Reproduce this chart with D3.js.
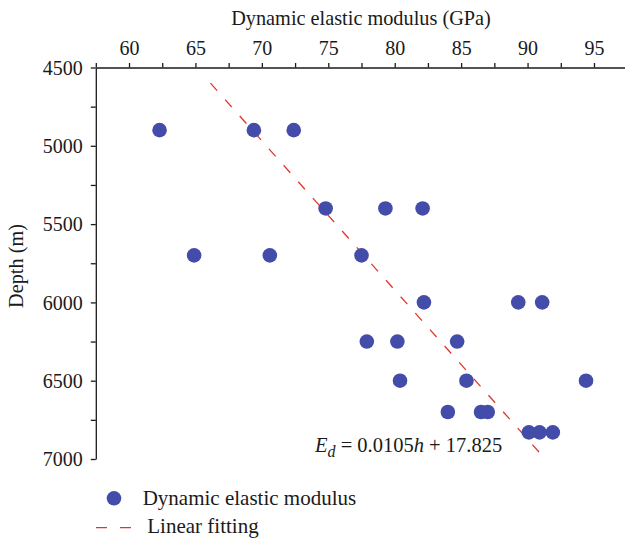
<!DOCTYPE html>
<html>
<head>
<meta charset="utf-8">
<script src="https://cdn.jsdelivr.net/npm/d3@7"></script>
<style>
  body { margin: 0; background: #fff; }
  svg text { font-family: "Liberation Serif", "Times New Roman", serif; fill: #1a1a1a; }
  .axis path, .axis line { stroke: #1a1a1a; stroke-width: 1.3; }
</style>
</head>
<body>
<div id="chart"></div>
<script>
// dynamic elastic modulus (GPa) against depth (m)
const modulus = [62.3, 69.4, 72.4, 74.8, 79.3, 82.1, 64.9, 70.6, 77.5, 82.2, 89.3, 91.1,
  77.9, 80.2, 84.7, 80.4, 85.4, 94.4, 84.0, 86.5, 87.0, 90.1, 90.9, 91.9];
const depth = [4900, 4900, 4900, 5400, 5400, 5400, 5700, 5700, 5700, 6000, 6000, 6000,
  6250, 6250, 6250, 6500, 6500, 6500, 6700, 6700, 6700, 6830, 6830, 6830];

// linear fitting end points
const fitDepth = [4600, 6980];
const fitModulus = [66.13, 91.12];

const xTicks = [60, 65, 70, 75, 80, 85, 90, 95];
const yTicks = [4500, 5000, 5500, 6000, 6500, 7000];

const width = 625, height = 541;
const pointColor = '#444ca9';
const fitColor = '#e2352c';

const svg = d3.select('#chart')
  .append('svg')
  .attr('width', width)
  .attr('height', height);

const x = d3.scaleLinear().domain([57.5, 97.5]).range([95.8, 627.2]);
const y = d3.scaleLinear().domain([4500, 7000]).range([67.5, 459]);

const xMinor = d3.range(57.5, 97.6, 2.5);
const yMinor = d3.range(4500, 7001, 250);

svg.append('g')
  .attr('class', 'axis')
  .attr('transform', 'translate(0,67.5)')
  .call(d3.axisTop(x)
    .tickValues(xMinor)
    .tickSize(4.5)
    .tickPadding(8)
    .tickSizeOuter(0)
    .tickFormat(d => xTicks.includes(d) ? d : ''))
  .call(g => g.selectAll('text').attr('font-size', 20));

svg.append('g')
  .attr('class', 'axis')
  .attr('transform', 'translate(95.8,0)')
  .call(d3.axisLeft(y)
    .tickValues(yMinor)
    .tickSize(5)
    .tickPadding(8)
    .tickSizeOuter(0)
    .tickFormat(d => yTicks.includes(d) ? d : ''))
  .call(g => g.selectAll('text').attr('font-size', 20).attr('dy', '0.34em'));

svg.append('text')
  .attr('x', 361)
  .attr('y', 25)
  .attr('text-anchor', 'middle')
  .attr('font-size', 20.3)
  .text('Dynamic elastic modulus (GPa)');

svg.append('text')
  .attr('transform', 'translate(23,266) rotate(-90)')
  .attr('text-anchor', 'middle')
  .attr('font-size', 20.3)
  .text('Depth (m)');

// fit line
svg.append('path')
  .datum(fitDepth.map((h, i) => [fitModulus[i], h]))
  .attr('fill', 'none')
  .attr('stroke', fitColor)
  .attr('stroke-width', 1.3)
  .attr('stroke-dasharray', '10,12')
  .attr('d', d3.line().x(d => x(d[0])).y(d => y(d[1])));

svg.append('g')
  .selectAll('circle')
  .data(modulus.map((m, i) => [m, depth[i]]))
  .join('circle')
  .attr('cx', d => x(d[0]))
  .attr('cy', d => y(d[1]))
  .attr('r', 7.3)
  .attr('fill', pointColor);

// equation
const eq = svg.append('text')
  .attr('x', 315)
  .attr('y', 452)
  .attr('font-size', 20.5);
eq.append('tspan').attr('font-style', 'italic').text('E');
eq.append('tspan').attr('font-style', 'italic').attr('font-size', 16).attr('dy', 5).text('d');
eq.append('tspan').attr('dy', -5).text(' = 0.0105');
eq.append('tspan').attr('font-style', 'italic').text('h');
eq.append('tspan').text(' + 17.825');

// legend
const legend = svg.append('g');
legend.append('circle')
  .attr('cx', 114)
  .attr('cy', 498.3)
  .attr('r', 7.3)
  .attr('fill', pointColor);
legend.append('text')
  .attr('x', 142.7)
  .attr('y', 505)
  .attr('font-size', 21)
  .text('Dynamic elastic modulus');
legend.append('line')
  .attr('x1', 96).attr('x2', 132)
  .attr('y1', 527.7).attr('y2', 527.7)
  .attr('stroke', fitColor)
  .attr('stroke-width', 1.3)
  .attr('stroke-dasharray', '11,13');
legend.append('text')
  .attr('x', 147.3)
  .attr('y', 533.3)
  .attr('font-size', 21)
  .text('Linear fitting');
</script>
</body>
</html>
